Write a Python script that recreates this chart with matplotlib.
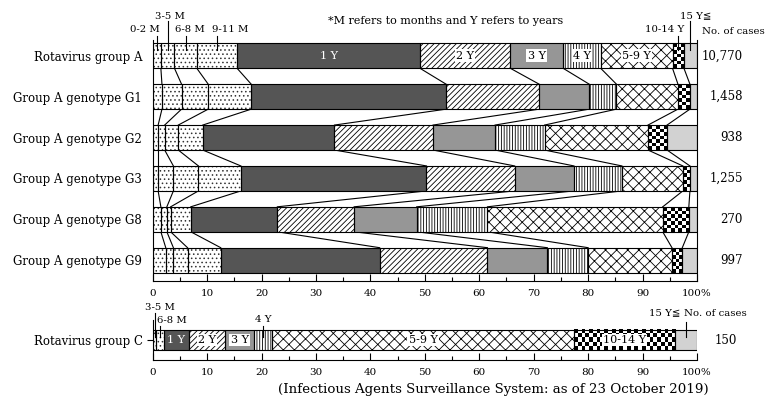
import numpy as np
import matplotlib
matplotlib.use('Agg')
import matplotlib.pyplot as plt

plt.rcParams['font.family'] = ['DejaVu Serif', 'DejaVu Sans']
plt.rcParams['hatch.linewidth'] = 0.6
plt.rcParams['font.size'] = 8

# age groups (left to right)
ages = ["0-2 M", "3-5 M", "6-8 M", "9-11 M", "1 Y", "2 Y", "3 Y", "4 Y",
        "5-9 Y", "10-14 Y", "15 Y\u2266"]

# group A rows, % of cases in each age group
groups = ["Rotavirus group A", "Group A genotype G1", "Group A genotype G2",
          "Group A genotype G3", "Group A genotype G8", "Group A genotype G9"]
rva = [1.5, 2.5, 4.1, 7.4, 33.6, 16.6, 9.7, 6.9, 13.2, 2.1, 2.4]
g1 = [1.7, 3.6, 4.9, 7.9, 35.8, 17.1, 9.2, 5.0, 11.3, 2.2, 1.3]
g2 = [1.0, 1.2, 2.5, 4.5, 24.2, 18.1, 11.4, 9.1, 19.0, 3.5, 5.5]
g3 = [1.0, 2.8, 4.6, 7.8, 34.1, 16.2, 10.9, 8.8, 11.2, 1.3, 1.3]
g8 = [1.5, 1.1, 0.7, 3.7, 15.9, 14.1, 11.5, 13.0, 32.2, 4.8, 1.5]
g9 = [2.4, 1.4, 2.6, 6.1, 29.2, 19.8, 11.0, 7.5, 15.4, 1.9, 2.7]
cases = ["10,770", "1,458", "938", "1,255", "270", "997"]

# group C, counts
grp_c = "Rotavirus group C"
rvc = [0, 1, 2, 0, 7, 10, 8, 5, 83, 28, 6]
cases_c = "150"

rows = [rva, g1, g2, g3, g8, g9]

# face colour, hatch, hatch colour
styles = [('white', '....', '#333333')] * 4 + [
    ('#555555', None, None),
    ('white', '//////', 'black'),
    ('#969696', None, None),
    ('white', '||||||', 'black'),
    ('white', 'xxx', 'black'),
    ('checker', None, None),
    ('#d2d2d2', None, None),
]

small = 7.3


def draw_row(ax, y, vals, h):
    cum = np.concatenate([[0], np.cumsum(vals)])
    cum = cum / cum[-1] * 100
    sx = ax.bbox.width / 100
    sy = ax.bbox.height / abs(ax.get_ylim()[0] - ax.get_ylim()[1])
    for k in range(len(vals)):
        left, w = cum[k], cum[k + 1] - cum[k]
        if w <= 0:
            continue
        face, hatch, hc = styles[k]
        if face == 'checker':
            nx = max(1, int(round(w * sx / 3.8)))
            ny = max(1, int(round(h * sy / 3.8)))
            arr = np.indices((ny, nx)).sum(0) % 2
            ax.imshow(arr, cmap='gray', vmin=0, vmax=1, interpolation='nearest',
                      aspect='auto', extent=(left, left + w, y + h / 2, y - h / 2), zorder=2)
        else:
            ax.barh(y, w, left=left, height=h, color=face, hatch=hatch,
                    edgecolor=hc if hatch else face, linewidth=0, zorder=2)
        ax.barh(y, w, left=left, height=h, fill=False, edgecolor='black',
                linewidth=0.8, zorder=3)
    return cum


def seg_label(ax, cum, y, name, dark=False):
    k = ages.index(name)
    xc = (cum[k] + cum[k + 1]) / 2
    if dark:
        ax.text(xc, y, name, color='white', ha='center', va='center', zorder=5)
    else:
        ax.text(xc, y, name, ha='center', va='center', zorder=5,
                bbox=dict(facecolor='white', edgecolor='none', pad=1))


def pointer(ax, cum, name, dx, ty, top, bottom, ha='center'):
    k = ages.index(name)
    xc = (cum[k] + cum[k + 1]) / 2
    ax.text(xc + dx, ty, name, ha=ha, va='center', fontsize=small, clip_on=False)
    ax.plot([xc, xc], [top, bottom], color='black', lw=0.8, clip_on=False, zorder=4)


fig = plt.figure(figsize=(7.66, 3.99), dpi=100)
W, Hf = 766, 399
x0, x1 = 152.7, 697

# ---- group A panel
ax = fig.add_axes([x0 / W, 1 - 281 / Hf, (x1 - x0) / W, (281 - 40) / Hf])
ax.set_xlim(0, 100)
ax.set_ylim(5.509, -0.386)
h = 0.611
cums = []
for i, vals in enumerate(rows):
    cums.append(draw_row(ax, i, vals, h))
    ax.text(108.4, i, cases[i], ha='right', va='center', fontsize=8.5, clip_on=False)

# connectors between rows
for i in range(len(rows) - 1):
    for k in range(1, len(ages)):
        ax.plot([cums[i][k], cums[i + 1][k]], [i + h / 2, i + 1 - h / 2],
                color='black', lw=0.8, zorder=1)

ca = cums[0]
seg_label(ax, ca, 0, "1 Y", dark=True)
for nm in ["2 Y", "3 Y", "4 Y", "5-9 Y"]:
    seg_label(ax, ca, 0, nm)
hi, lo = -0.973, -0.631
pointer(ax, ca, "0-2 M", -2.26, lo, -0.484, -0.142)
pointer(ax, ca, "3-5 M", 0.43, hi, -0.851, -0.142)
pointer(ax, ca, "6-8 M", 0.75, lo, -0.484, -0.142)
pointer(ax, ca, "9-11 M", 2.5, lo, -0.484, -0.142)
pointer(ax, ca, "10-14 Y", -2.5, lo, -0.484, -0.142)
pointer(ax, ca, ages[-1], 1.0, hi, -0.851, -0.142)
ax.text(100.9, -0.59, "No. of cases", ha='left', va='center', fontsize=small, clip_on=False)
ax.text(32.2, -0.851, "*M refers to months and Y refers to years", ha='left',
        va='center', clip_on=False)

ax.set_yticks(range(len(groups)))
ax.set_yticklabels(groups)
ax.tick_params(axis='y', length=0, pad=7.7, labelsize=8.5)
ax.spines['top'].set_visible(False)

# ---- group C panel
axc = fig.add_axes([x0 / W, 1 - 360 / Hf, (x1 - x0) / W, 40 / Hf])
axc.set_xlim(0, 100)
axc.set_ylim(1, -1)
hc = 1.035
cc = draw_row(axc, 0, rvc, hc)
axc.text(107.3, 0, cases_c, ha='right', va='center', fontsize=8.5, clip_on=False)
seg_label(axc, cc, 0, "1 Y", dark=True)
for nm in ["2 Y", "3 Y", "5-9 Y", "10-14 Y"]:
    seg_label(axc, cc, 0, nm)
pointer(axc, cc, "3-5 M", 0.92, -1.6, -1.35, -0.15)
pointer(axc, cc, "6-8 M", 2.2, -0.965, -0.7, -0.15)
pointer(axc, cc, "4 Y", 0.0, -1.0, -0.7, -0.15)
pointer(axc, cc, ages[-1], -1.0, -1.35, -0.915, -0.15, ha='right')
axc.text(97.7, -1.35, "No. of cases", ha='left', va='center', fontsize=small, clip_on=False)

axc.set_yticks([0])
axc.set_yticklabels([grp_c])
axc.tick_params(axis='y', direction='out', length=4, width=0.8, pad=3, labelsize=8.5)
axc.spines['top'].set_visible(False)
axc.spines['right'].set_visible(False)

for a in (ax, axc):
    a.set_xlim(0, 100)
    a.set_xticks(range(0, 101, 10))
    a.set_xticklabels([str(v) for v in range(0, 100, 10)] + ["100%"])
    a.set_xticks(range(5, 100, 10), minor=True)
    a.tick_params(axis='x', which='major', direction='in', length=5, width=0.8,
                  pad=6, labelsize=7.5)
    a.tick_params(axis='x', which='minor', direction='in', length=3, width=0.8)
    for s in a.spines.values():
        s.set_linewidth(0.8)
ax.set_ylim(5.509, -0.386)
axc.set_ylim(1, -1)

fig.text(493 / W, 1 - 390 / Hf, "(Infectious Agents Surveillance System: as of 23 October 2019)",
         ha='center', va='center', fontsize=9.6)

fig.savefig('out.png', dpi=100)
